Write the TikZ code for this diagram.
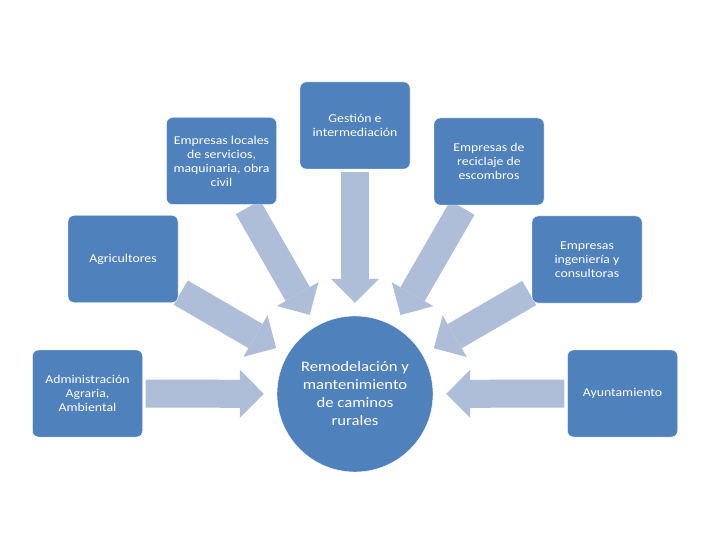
\documentclass[tikz,border=0pt]{standalone}
\usepackage{fontspec}
\setmainfont{Carlito}[FakeStretch=1.15]
\usepackage{xcolor}
\usepackage{tikz}
\usetikzlibrary{arrows.meta,backgrounds}

\definecolor{boxblue}{RGB}{79,129,189}
\definecolor{arrowblue}{RGB}{174,189,216}

\begin{document}
\begin{tikzpicture}[
  x=1pt, y=-1pt,
  sbox/.style={draw=white, thin, rounded corners=6pt, fill=boxblue, text=white,
               align=center, inner sep=2pt, minimum width=110pt, minimum height=87pt,
               font=\fontsize{12}{14}\selectfont},
  hubnode/.style={circle, draw=white, thin, fill=boxblue, text=white, align=center,
                  inner sep=0pt, minimum size=156pt, font=\fontsize{14.5}{18}\selectfont},
  fatarr/.style={line width=28pt, arrowblue,
                 -{Triangle[length=24pt, width=48pt, line width=0pt]},
                 shorten <=3pt, shorten >=13pt}
]
\useasboundingbox (0,0) rectangle (720,540);
% ----- centre -----
\node[hubnode] (hub) at (355,394) {Remodelación y\\mantenimiento\\de caminos\\rurales};
% ----- top row -----
\node[sbox] (locales) at (221.5,161) {Empresas locales\\de servicios,\\maquinaria, obra\\civil};
\node[sbox] (gestion) at (355,125.5) {Gestión e\\intermediación};
\node[sbox] (reciclaje) at (489,161.5) {Empresas de\\reciclaje de\\escombros};
% ----- sides -----
\node[sbox] (agri) at (123,259) {Agricultores};
\node[sbox] (ingenieria) at (587,259.5) {Empresas\\ingeniería y\\consultoras};
\node[sbox] (admin) at (87.5,393.5) {Administración\\Agraria,\\Ambiental};
\node[sbox] (ayunt) at (622.5,393.5) {Ayuntamiento};
% ----- block arrows into the centre -----
\begin{pgfonlayer}{background}
\foreach \a in {agri, locales, gestion, reciclaje, ingenieria, admin, ayunt}{\draw[fatarr] (\a) -- (hub);}
\end{pgfonlayer}
\end{tikzpicture}
\end{document}
